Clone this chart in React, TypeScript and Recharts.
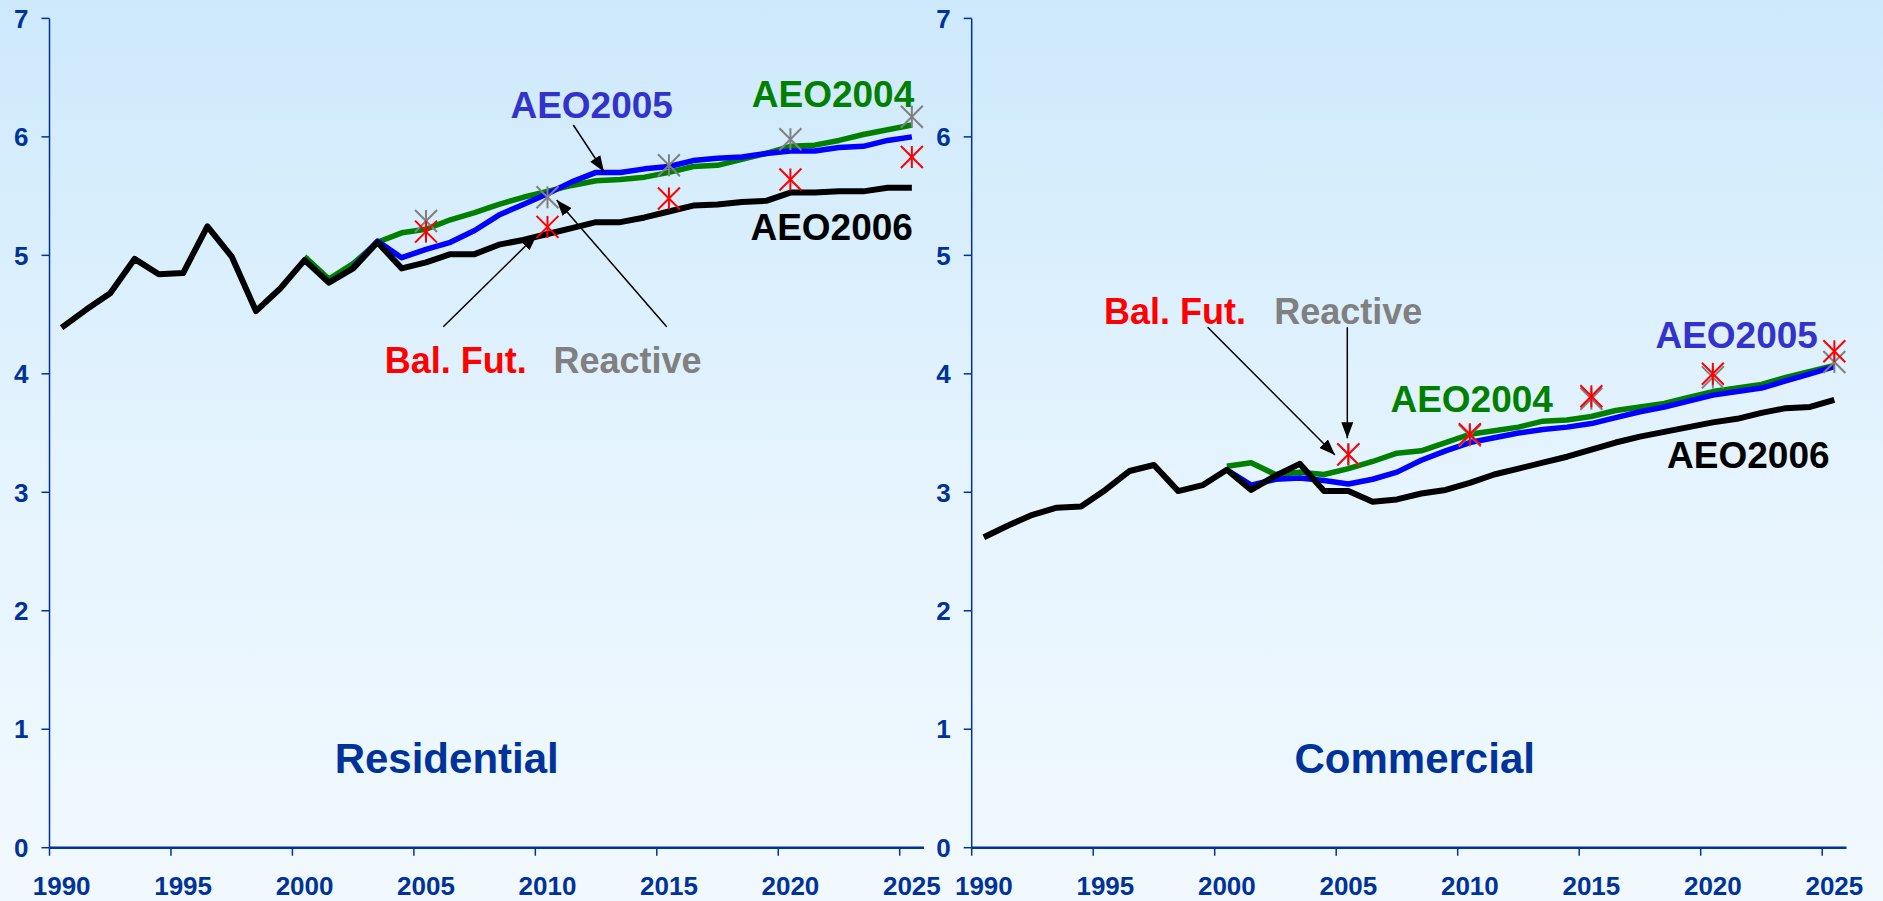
import React from "react";
import { LineChart, Line, XAxis, YAxis } from "recharts";

const YEARS = [
  1990, 1991, 1992, 1993, 1994, 1995, 1996, 1997, 1998, 1999,
  2000, 2001, 2002, 2003, 2004, 2005, 2006, 2007, 2008, 2009,
  2010, 2011, 2012, 2013, 2014, 2015, 2016, 2017, 2018, 2019,
  2020, 2021, 2022, 2023, 2024, 2025,
];
const MARKER_YEARS = [2005, 2010, 2015, 2020, 2025];
const Y_TICKS = [0, 1, 2, 3, 4, 5, 6, 7];
// ticks sit on category boundaries, labels are centred under the year
const X_TICKS = [1989.5, 1994.5, 1999.5, 2004.5, 2009.5, 2014.5, 2019.5, 2024.5];

// Residential (history + AEO2006 from 1990, AEO2004 from 2000, AEO2005 from 2002)
const RES_AEO2006 = [
  4.39, 4.54, 4.68, 4.97, 4.84, 4.85, 5.245, 4.99, 4.53, 4.72,
  4.96, 4.77, 4.89, 5.11, 4.89, 4.94, 5.01, 5.01, 5.09, 5.13,
  5.18, 5.23, 5.28, 5.28, 5.32, 5.37, 5.42, 5.43, 5.45, 5.46,
  5.53, 5.53, 5.54, 5.54, 5.57, 5.57,
];
const RES_AEO2004 = [
  4.99, 4.8, 4.93, 5.11, 5.19, 5.22, 5.3, 5.36, 5.43, 5.49,
  5.54, 5.59, 5.63, 5.64, 5.66, 5.7, 5.75, 5.76, 5.81, 5.86,
  5.92, 5.93, 5.97, 6.02, 6.06, 6.1,
];
const RES_AEO2005 = [
  4.9, 5.12, 4.98, 5.05, 5.11, 5.21, 5.34, 5.43, 5.52, 5.62,
  5.7, 5.7, 5.73, 5.75, 5.8, 5.82, 5.83, 5.86, 5.88, 5.88,
  5.91, 5.92, 5.97, 6.0,
];
const RES_BALFUT = [5.2, 5.24, 5.48, 5.64, 5.83];
const RES_REACTIVE = [5.29, 5.49, 5.76, 5.98, 6.17];

// Commercial
const COM_AEO2006 = [
  2.62, 2.72, 2.81, 2.87, 2.88, 3.02, 3.18, 3.23, 3.01, 3.06,
  3.19, 3.02, 3.14, 3.24, 3.01, 3.01, 2.92, 2.94, 2.99, 3.02,
  3.08, 3.15, 3.2, 3.25, 3.3, 3.36, 3.42, 3.47, 3.51, 3.55,
  3.59, 3.62, 3.67, 3.71, 3.72, 3.78,
];
const COM_AEO2004 = [
  3.22, 3.25, 3.15, 3.17, 3.15, 3.2, 3.26, 3.33, 3.35, 3.42,
  3.49, 3.52, 3.55, 3.6, 3.61, 3.64, 3.69, 3.72, 3.75, 3.8,
  3.85, 3.88, 3.91, 3.97, 4.02, 4.07,
];
const COM_AEO2005 = [
  3.19, 3.06, 3.11, 3.12, 3.1, 3.07, 3.11, 3.17, 3.27, 3.35,
  3.42, 3.46, 3.5, 3.53, 3.55, 3.58, 3.63, 3.68, 3.72, 3.77,
  3.82, 3.85, 3.88, 3.94, 4.0, 4.06,
];
const COM_BALFUT = [3.32, 3.49, 3.81, 4.0, 4.19];
const COM_REACTIVE = [3.32, 3.48, 3.79, 3.97, 4.1];

const FONT = '"Liberation Sans", Arial, Helvetica, sans-serif';
const AXIS_BLUE = "#003399";
const PLOT_W = 874.5;
const HALF_BAND = PLOT_W / YEARS.length / 2;

function buildRows(
  aeo2006: number[],
  aeo2004: number[],
  start2004: number,
  aeo2005: number[],
  start2005: number,
  balFut: number[],
  reactive: number[]
) {
  return YEARS.map((year, i) => {
    const m = MARKER_YEARS.indexOf(year);
    return {
      year,
      aeo2006: aeo2006[i],
      aeo2004: year >= start2004 ? aeo2004[year - start2004] : null,
      aeo2005: year >= start2005 ? aeo2005[year - start2005] : null,
      balFut: m >= 0 ? balFut[m] : null,
      reactive: m >= 0 ? reactive[m] : null,
    };
  });
}

const resRows = buildRows(RES_AEO2006, RES_AEO2004, 2000, RES_AEO2005, 2002, RES_BALFUT, RES_REACTIVE);
const comRows = buildRows(COM_AEO2006, COM_AEO2004, 2000, COM_AEO2005, 2000, COM_BALFUT, COM_REACTIVE);

function starDot(color: string) {
  return (props: any) => {
    const { cx, cy, value, index } = props;
    if (value == null || cx == null || cy == null) return <g key={`s-${index}`} />;
    const s = 11;
    return (
      <g key={`s-${index}`} stroke={color} strokeWidth={2}>
        <line x1={cx} y1={cy - s} x2={cx} y2={cy + s} />
        <line x1={cx - s} y1={cy - s} x2={cx + s} y2={cy + s} />
        <line x1={cx - s} y1={cy + s} x2={cx + s} y2={cy - s} />
      </g>
    );
  };
}

function YearTick(props: any) {
  const { x, y, payload } = props;
  return (
    <text
      x={x + HALF_BAND}
      y={y}
      dy="0.71em"
      textAnchor="middle"
      fill={AXIS_BLUE}
      fontSize={26}
      fontWeight="bold"
      fontFamily={FONT}
    >
      {payload.value + 0.5}
    </text>
  );
}

function Panel({ rows, width, yAxisWidth, marginRight }: any) {
  return (
    <LineChart
      width={width}
      height={901}
      data={rows}
      margin={{ top: 18.4, right: marginRight, bottom: 13.3, left: 0 }}
    >
      <XAxis
        dataKey="year"
        type="number"
        domain={[1989.5, 2025.5]}
        ticks={X_TICKS}
        interval={0}
        height={40}
        tickSize={8}
        tickMargin={21}
        axisLine={{ stroke: AXIS_BLUE, strokeWidth: 2.5 }}
        tickLine={{ stroke: AXIS_BLUE, strokeWidth: 1.5 }}
        tick={<YearTick />}
      />
      <YAxis
        type="number"
        domain={[0, 7]}
        ticks={Y_TICKS}
        interval={0}
        width={yAxisWidth}
        tickSize={8}
        tickMargin={13}
        axisLine={{ stroke: AXIS_BLUE, strokeWidth: 1.5 }}
        tickLine={{ stroke: AXIS_BLUE, strokeWidth: 1.5 }}
        tick={{ fill: AXIS_BLUE, fontSize: 26, fontWeight: "bold", fontFamily: FONT }}
      />
      <Line dataKey="aeo2004" stroke="#008000" strokeWidth={5.5} strokeLinejoin="round" dot={false} activeDot={false} isAnimationActive={false} />
      <Line dataKey="aeo2005" stroke="#0000ff" strokeWidth={5.5} strokeLinejoin="round" dot={false} activeDot={false} isAnimationActive={false} />
      <Line dataKey="aeo2006" stroke="#000000" strokeWidth={6} strokeLinejoin="round" dot={false} activeDot={false} isAnimationActive={false} />
      <Line dataKey="reactive" stroke="none" strokeWidth={0} dot={starDot("#808080")} activeDot={false} isAnimationActive={false} />
      <Line dataKey="balFut" stroke="none" strokeWidth={0} dot={starDot("#ff0000")} activeDot={false} isAnimationActive={false} />
    </LineChart>
  );
}

function Label({ x, y, color, size = 37, children }: any) {
  return (
    <text x={x} y={y} fill={color} fontSize={size} fontWeight="bold" fontFamily={FONT} textAnchor="middle">
      {children}
    </text>
  );
}

function Arrow({ x1, y1, x2, y2 }: any) {
  return <line x1={x1} y1={y1} x2={x2} y2={y2} stroke="#000" strokeWidth={1.5} markerEnd="url(#ah)" />;
}

export default function App() {
  return (
    <div
      style={{
        position: "absolute",
        left: 0,
        top: 0,
        width: 1883,
        height: 901,
        overflow: "hidden",
        background: "linear-gradient(to bottom, #cde9fb 0%, #e6f4fe 55%, #f1f9fe 100%)",
      }}
    >
      <div style={{ position: "absolute", left: 0, top: 0 }}>
        <Panel rows={resRows} width={950} yAxisWidth={49.5} marginRight={26} />
      </div>
      <div style={{ position: "absolute", left: 926, top: 0 }}>
        <Panel rows={comRows} width={957} yAxisWidth={45.7} marginRight={36.5} />
      </div>
      <svg
        width={1883}
        height={901}
        style={{ position: "absolute", left: 0, top: 0, pointerEvents: "none" }}
      >
        <defs>
          <marker id="ah" markerWidth={16} markerHeight={12} refX={16} refY={6} orient="auto" markerUnits="userSpaceOnUse">
            <path d="M0,0 L16,6 L0,12 z" fill="#000" />
          </marker>
        </defs>

        {/* Residential */}
        <Label x={591.7} y={118.3} color="#3333cc">AEO2005</Label>
        <Label x={833} y={106.7} color="#008000">AEO2004</Label>
        <Label x={831.7} y={240} color="#000000">AEO2006</Label>
        <Label x={455.8} y={373.3} color="#ff0000" size={36}>Bal. Fut.</Label>
        <Label x={627.5} y={373.3} color="#808080" size={36}>Reactive</Label>
        <Label x={446.7} y={772.7} color={AXIS_BLUE} size={42}>Residential</Label>
        <Arrow x1={573.3} y1={125} x2={604} y2={171.7} />
        <Arrow x1={443.3} y1={326.7} x2={536.7} y2={235} />
        <Arrow x1={666.7} y1={326.7} x2={556.7} y2={200} />

        {/* Commercial */}
        <Label x={1175} y={324.3} color="#ff0000" size={36}>Bal. Fut.</Label>
        <Label x={1348.3} y={324.3} color="#808080" size={36}>Reactive</Label>
        <Label x={1471.7} y={411.7} color="#008000">AEO2004</Label>
        <Label x={1736.7} y={348.3} color="#3333cc">AEO2005</Label>
        <Label x={1748.3} y={468.3} color="#000000">AEO2006</Label>
        <Label x={1414.7} y={772.7} color={AXIS_BLUE} size={42}>Commercial</Label>
        <Arrow x1={1207.7} y1={327.3} x2={1335} y2={455} />
        <Arrow x1={1347.3} y1={327.3} x2={1347.3} y2={438.3} />
      </svg>
    </div>
  );
}
